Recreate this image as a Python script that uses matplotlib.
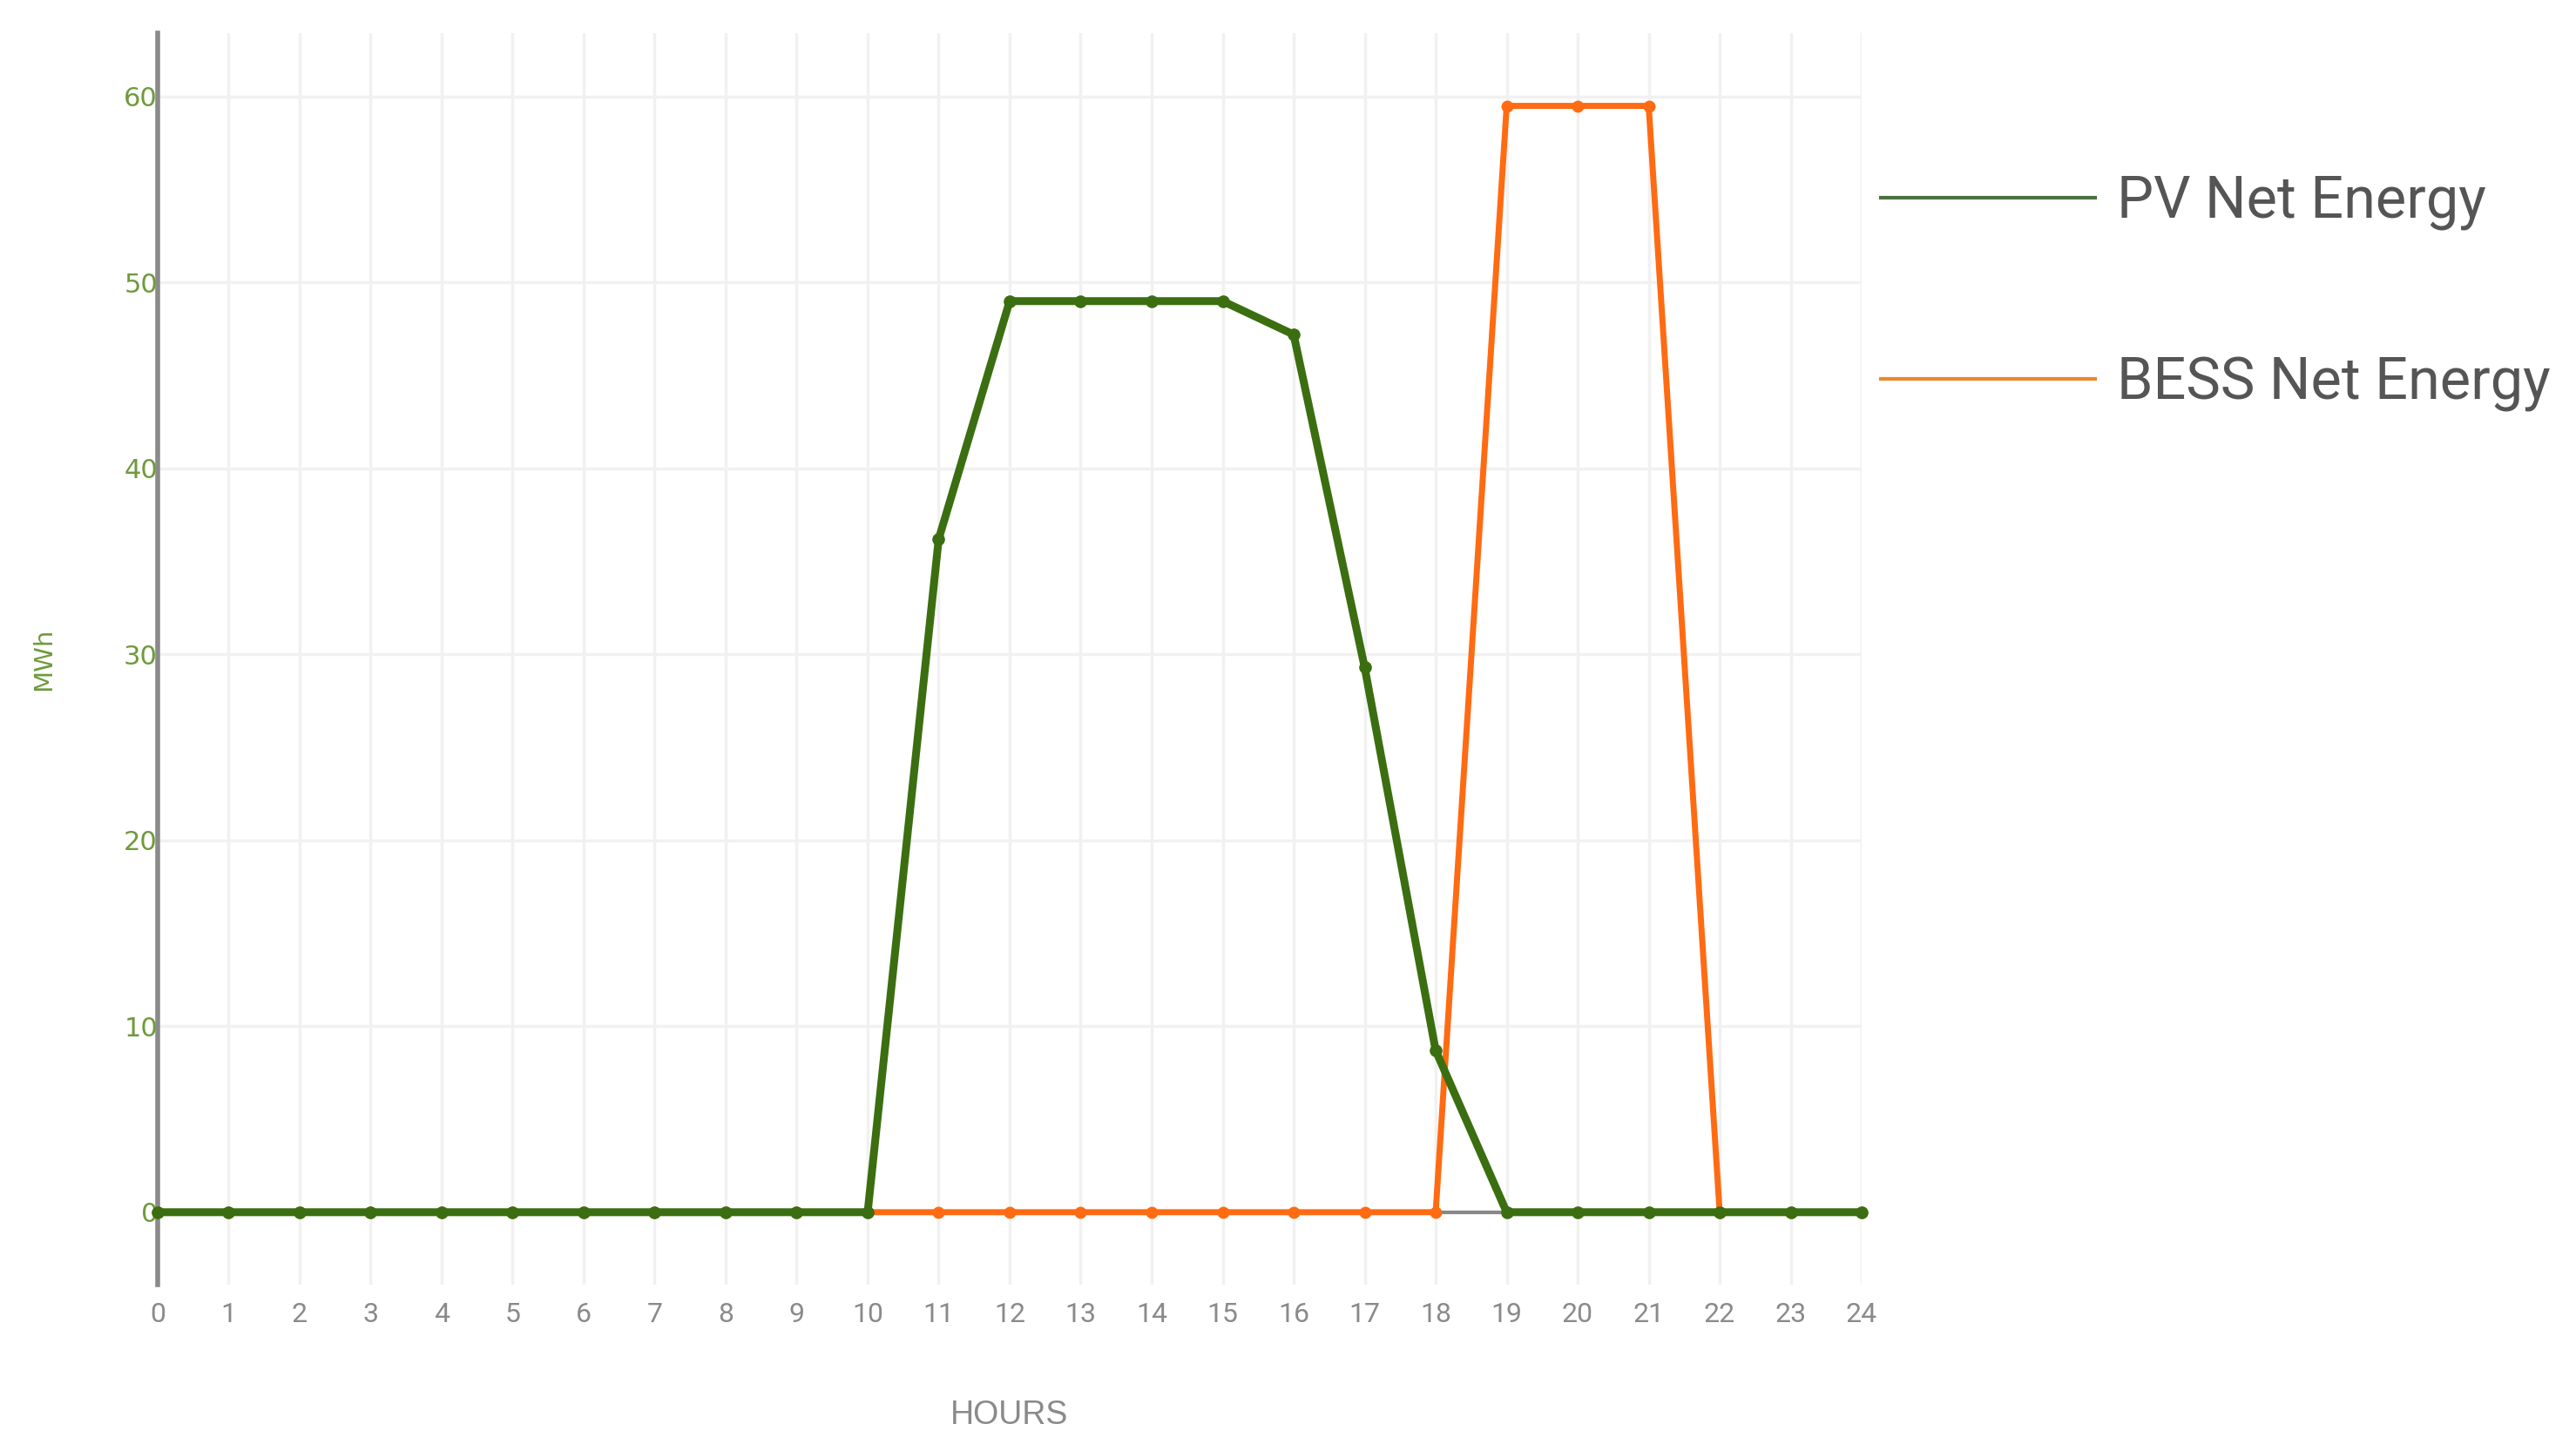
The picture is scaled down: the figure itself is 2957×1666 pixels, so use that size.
import matplotlib
matplotlib.use("Agg")
import matplotlib.pyplot as plt
from matplotlib.lines import Line2D

hours = list(range(25))
pv_net = [0, 0, 0, 0, 0, 0, 0, 0, 0, 0, 0, 36.2, 49.0, 49.0, 49.0, 49.0, 47.2, 29.3, 8.7, 0, 0, 0, 0, 0, 0]
bess_net = [0, 0, 0, 0, 0, 0, 0, 0, 0, 0, 0, 0, 0, 0, 0, 0, 0, 0, 0, 59.5, 59.5, 59.5, 0, 0, 0]
series_labels = ["PV Net Energy", "BESS Net Energy"]
y_ticks = [0, 10, 20, 30, 40, 50, 60]

GREEN = "#3b6e10"
ORANGE = "#ff6b12"
narrow = ["Roboto", "Liberation Sans", "DejaVu Sans"]

fig = plt.figure(figsize=(29.57, 16.66), dpi=100)
ax = fig.add_axes([0.0612, 0.1146, 0.6615, 0.8624])

ax.set_xlim(0, 24)
ax.set_ylim(-3.9, 63.4)

ax.set_xticks(hours)
ax.set_yticks(y_ticks)
ax.grid(True, color="#f1f1f1", linewidth=2.5, zorder=0)
ax.set_axisbelow(True)

ax.axhline(0, color="#888888", linewidth=3, zorder=1)

ax.plot(hours, bess_net, color=ORANGE, linewidth=5, marker="o", markersize=9,
        clip_on=False, zorder=3)
ax.plot(hours, pv_net, color=GREEN, linewidth=6.5, marker="o", markersize=9.5,
        clip_on=False, zorder=4)

for s in ["top", "right", "bottom"]:
    ax.spines[s].set_visible(False)
ax.spines["left"].set_color("#8a8a8a")
ax.spines["left"].set_linewidth(4)

ax.tick_params(axis="x", length=0, pad=14, labelsize=23, labelcolor="#8a8a8a")
ax.tick_params(axis="y", length=0, pad=0, labelsize=22, labelcolor="#6f9a3c")
for lab in ax.get_xticklabels():
    lab.set_family(["Roboto", "DejaVu Sans"])
for lab in ax.get_yticklabels():
    lab.set_family(["DejaVu Sans"])

ax.set_xlabel("HOURS", fontsize=27, color="#8a8a8a", family=["Liberation Sans", "DejaVu Sans"], labelpad=60)
ax.set_ylabel("MWh", fontsize=21, color="#6f9a3c", family=["DejaVu Sans"], labelpad=56)

handles = [Line2D([0], [0], color="#4a7040", linewidth=3),
           Line2D([0], [0], color="#e8892a", linewidth=3)]
leg = fig.legend(handles, series_labels, loc="upper left",
                 bbox_to_anchor=(0.730, 0.880), borderaxespad=0, borderpad=0,
                 frameon=False, handlelength=3.69, handletextpad=0.38,
                 labelspacing=2.155, prop={"family": narrow, "size": 48})
for t in leg.get_texts():
    t.set_color("#555555")

fig.savefig("out.png", dpi=100, facecolor="white")
